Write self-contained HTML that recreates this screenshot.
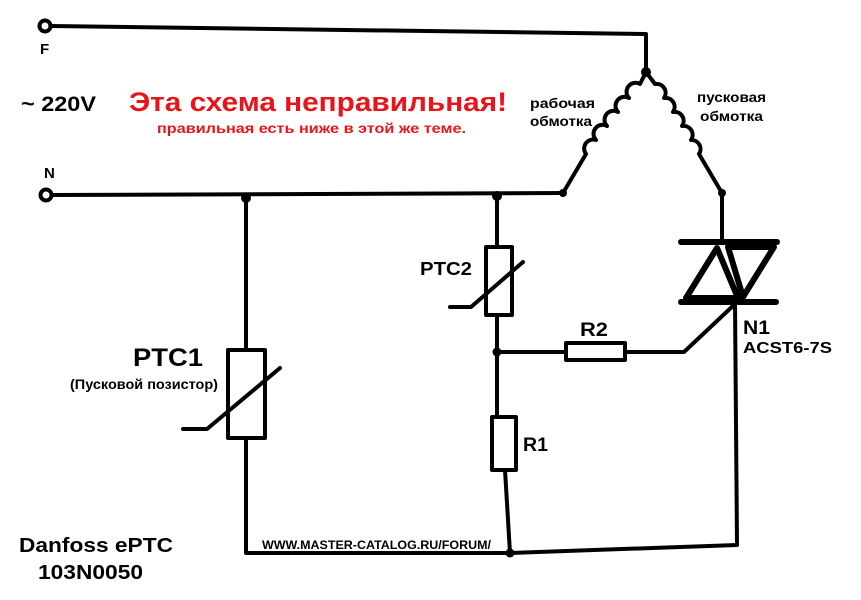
<!DOCTYPE html>
<html><head><meta charset="utf-8"><style>
html,body{margin:0;padding:0;background:#fff;}
svg{display:block;}
text{font-family:"Liberation Sans",Arial,sans-serif;font-weight:bold;}
</style></head><body>
<svg width="861" height="600" viewBox="0 0 861 600" xmlns="http://www.w3.org/2000/svg">
<g fill="none" stroke="#000" stroke-width="4" stroke-linecap="round" stroke-linejoin="round">
<circle cx="45" cy="26" r="5.5"/>
<path d="M51 26 L646 34 L646 72"/>
<circle cx="46" cy="195" r="5.5"/>
<path d="M52 195 L563 193"/>
<path d="M646 72 L640 84 A9 9 0 0 0 629 98 A9 9 0 0 0 618 112 A9 9 0 0 0 607 126 A9 9 0 0 0 596 140 A9 9 0 0 0 586 154 L563 193"/>
<path d="M646 72 L655 84 A9 9 0 0 1 664 98 A9 9 0 0 1 673 112 A9 9 0 0 1 682 126 A9 9 0 0 1 691 140 A9 9 0 0 1 699 154 L722 193 L722 242"/>
<path d="M681 242 L777 242" stroke-width="6"/>
<path d="M681 302 L776 302" stroke-width="6"/>
<path d="M717 248 L686 298 L738 298 Z" stroke-width="6"/>
<path d="M728 247 L774 247 L743 297 Z" stroke-width="6"/>
<path d="M735 302 L737 545 L510 553"/>
<path d="M735 304 L684 352 L625 352"/>
<rect x="566" y="343" width="59" height="17"/>
<path d="M497 352 L566 352"/>
<path d="M497 197 L497 247"/>
<rect x="486" y="247" width="26" height="68"/>
<path d="M450 307 L471 307 L523 262"/>
<path d="M497 315 L497 417"/>
<rect x="492" y="417" width="24" height="53"/>
<path d="M505 470 L510 553"/>
<path d="M246 199 L246 350"/>
<rect x="228" y="350" width="37" height="88"/>
<path d="M183 429 L207 429 L280 368"/>
<path d="M246 438 L246 553 L510 553"/>
</g>
<g fill="#000">
<circle cx="646" cy="72" r="5"/>
<circle cx="246" cy="198" r="5"/>
<circle cx="497" cy="196" r="5"/>
<circle cx="563" cy="193" r="4"/>
<circle cx="722" cy="193" r="4"/>
<circle cx="497" cy="352" r="4.5"/>
<circle cx="510" cy="553" r="4.5"/>
</g>
<text x="40" y="54" font-size="15">F</text>
<text x="44" y="178" font-size="15">N</text>
<text x="21" y="111" font-size="21" textLength="75" lengthAdjust="spacingAndGlyphs">~ 220V</text>
<text x="129" y="111" font-size="27" fill="#e8141a" textLength="378" lengthAdjust="spacingAndGlyphs">Эта схема неправильная!</text>
<text x="157" y="133" font-size="14" fill="#e8141a" textLength="309" lengthAdjust="spacingAndGlyphs">правильная есть ниже в этой же теме.</text>
<text x="530" y="108" font-size="14" textLength="65" lengthAdjust="spacingAndGlyphs">рабочая</text>
<text x="530" y="126" font-size="14" textLength="62" lengthAdjust="spacingAndGlyphs">обмотка</text>
<text x="697" y="102" font-size="14" textLength="69" lengthAdjust="spacingAndGlyphs">пусковая</text>
<text x="700" y="121" font-size="14" textLength="63" lengthAdjust="spacingAndGlyphs">обмотка</text>
<text x="743" y="334" font-size="19" textLength="27" lengthAdjust="spacingAndGlyphs">N1</text>
<text x="743" y="353" font-size="16" textLength="89" lengthAdjust="spacingAndGlyphs">ACST6-7S</text>
<text x="580" y="336" font-size="19" textLength="28" lengthAdjust="spacingAndGlyphs">R2</text>
<text x="420" y="275" font-size="18" textLength="52" lengthAdjust="spacingAndGlyphs">PTC2</text>
<text x="523" y="451" font-size="19" textLength="25" lengthAdjust="spacingAndGlyphs">R1</text>
<text x="133" y="366" font-size="25" textLength="70" lengthAdjust="spacingAndGlyphs">PTC1</text>
<text x="70" y="389" font-size="14" textLength="148" lengthAdjust="spacingAndGlyphs">(Пусковой позистор)</text>
<text x="19" y="552" font-size="20" textLength="154" lengthAdjust="spacingAndGlyphs">Danfoss ePTC</text>
<text x="38" y="579" font-size="20" textLength="105" lengthAdjust="spacingAndGlyphs">103N0050</text>
<text x="262" y="549" font-size="12" textLength="229" lengthAdjust="spacingAndGlyphs">WWW.MASTER-CATALOG.RU/FORUM/</text>
</svg>
</body></html>
